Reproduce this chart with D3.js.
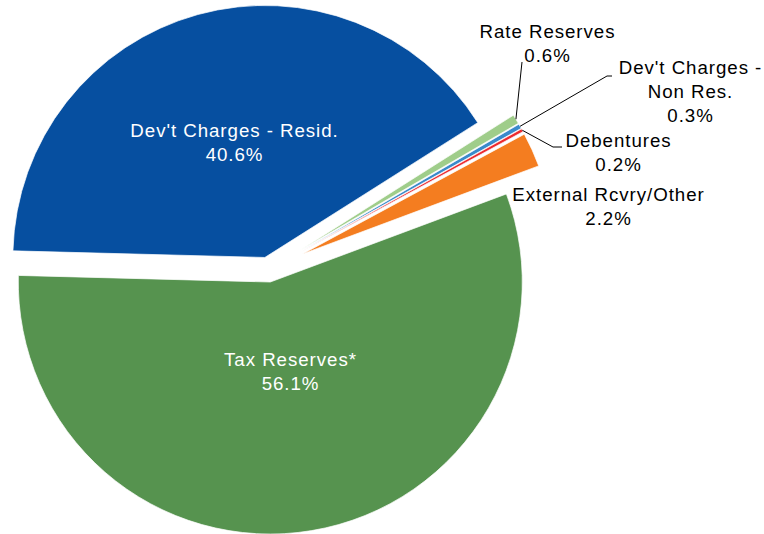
<!DOCTYPE html>
<html>
<head>
<meta charset="utf-8">
<script src="https://cdn.jsdelivr.net/npm/d3@7"></script>
<style>
  body { margin: 0; background: #fff; }
  svg text { font-family: "Liberation Sans", Arial, sans-serif; font-size: 18.7px; letter-spacing: 0.95px; }
</style>
</head>
<body>
<div id="chart"></div>
<script>
// data
var categories = ["Dev't Charges - Resid.", "Rate Reserves", "Dev't Charges - Non Res.", "Debentures", "External Rcvry/Other", "Tax Reserves*"];
var shares = [40.6, 0.6, 0.3, 0.2, 2.2, 56.1];

// styling
var colors = ["#064fa0", "#9fcd8a", "#3a8acb", "#ec2a2e", "#f47d20", "#56934f"];
var explode = [0.05, 0.15, 0.15, 0.15, 0.15, 0.05];   // fraction of radius

var width = 764, height = 534;
var cx = 268.2, cy = 269.6, R = 252;
var startDeg = 271.5;

var svg = d3.select("#chart").append("svg")
    .attr("width", width)
    .attr("height", height);

var pie = d3.pie()
    .sort(null)
    .value(function(d) { return d; })
    .startAngle(startDeg * Math.PI / 180)
    .endAngle((startDeg + 360) * Math.PI / 180);

var arcs = pie(shares);

var arc = d3.arc()
    .innerRadius(0)
    .outerRadius(R);

function offset(d, i) {
  var mid = (d.startAngle + d.endAngle) / 2;
  var e = explode[i] * R;
  return [cx + e * Math.sin(mid), cy - e * Math.cos(mid)];
}

// slices
svg.append("g").selectAll("path")
    .data(arcs)
  .enter().append("path")
    .attr("transform", function(d, i) {
      var o = offset(d, i);
      return "translate(" + o[0] + "," + o[1] + ")"; })
    .attr("d", arc)
    .style("fill", function(d, i) { return colors[i]; })
    .style("stroke", "#fff")
    .style("stroke-width", 0.7);

// point on outer edge of a slice (exploded)
function edgePoint(i, frac) {
  var d = arcs[i];
  var a = d.startAngle + (d.endAngle - d.startAngle) * (frac == null ? 0.5 : frac);
  var o = offset(d, i);
  return [o[0] + R * Math.sin(a), o[1] - R * Math.cos(a)];
}

// leader lines (Rate Reserves, Non Res., Debentures)
var leaders = [
  {i: 1, pts: [[522, 62]]},
  {i: 2, pts: [[607, 76], [612, 76]]},
  {i: 3, pts: [[553, 147], [562, 147]]}
];
leaders.forEach(function(l) {
  var p0 = edgePoint(l.i);
  svg.append("path")
      .attr("d", d3.line()([p0].concat(l.pts)))
      .style("fill", "none")
      .style("stroke", "#000")
      .style("stroke-width", 1);
});

// labels: centre x, first baseline, lines, colour
var labels = [
  {x: 234, y: 137, lines: ["Dev't Charges - Resid.", shares[0].toFixed(1) + "%"], fill: "#fff"},
  {x: 547, y: 38, lines: ["Rate Reserves", shares[1].toFixed(1) + "%"], fill: "#000"},
  {x: 690, y: 74, lines: ["Dev't Charges -", "Non Res.", shares[2].toFixed(1) + "%"], fill: "#000"},
  {x: 618, y: 147, lines: ["Debentures", shares[3].toFixed(1) + "%"], fill: "#000"},
  {x: 608, y: 201, lines: ["External Rcvry/Other", shares[4].toFixed(1) + "%"], fill: "#000"},
  {x: 290, y: 366, lines: ["Tax Reserves*", shares[5].toFixed(1) + "%"], fill: "#fff"}
];

labels.forEach(function(l) {
  var t = svg.append("text")
      .attr("text-anchor", "middle")
      .style("fill", l.fill);
  l.lines.forEach(function(s, k) {
    t.append("tspan")
        .attr("x", l.x + 0.5)
        .attr("y", l.y + k * 24)
        .text(s);
  });
});
</script>
</body>
</html>
